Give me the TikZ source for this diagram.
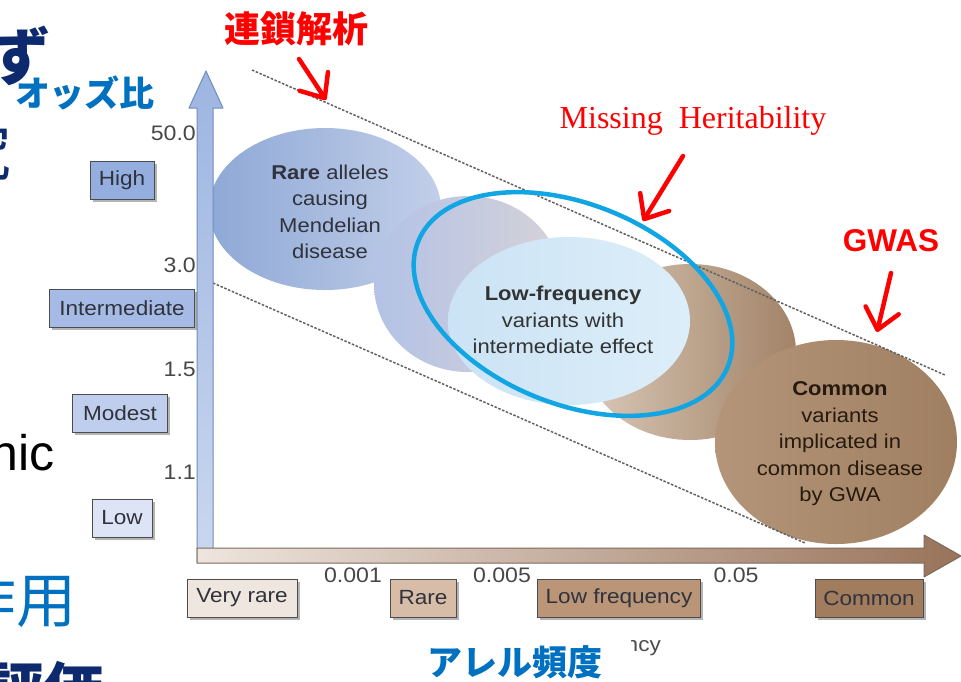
\documentclass[tikz,border=0pt]{standalone}
\usepackage{fontspec}
\setmainfont{Liberation Sans}[FakeStretch=1.1]
\newfontfamily\arialplain{Liberation Sans}
\newfontfamily\timesf{Liberation Serif}
\newfontfamily\jp{Noto Sans CJK JP}
\usetikzlibrary{shadows,arrows.meta}
\definecolor{navy}{HTML}{0E2A6E}
\definecolor{jblue}{HTML}{0070C0}
\definecolor{ringc}{HTML}{12A5E3}
\definecolor{txt}{HTML}{30323C}
\definecolor{annred}{HTML}{FF0000}
\definecolor{eal}{HTML}{8EA8D6}
\definecolor{ear}{HTML}{C2CFE9}
\definecolor{ebl}{HTML}{B3C2E6}
\definecolor{ebr}{HTML}{D6D2D8}
\definecolor{ecl}{HTML}{D9C8B8}
\definecolor{ecr}{HTML}{A28367}
\definecolor{edl}{HTML}{CBE3F5}
\definecolor{edr}{HTML}{DDEEF9}
\definecolor{eel}{HTML}{B49579}
\definecolor{eer}{HTML}{A07F61}
\definecolor{hiC}{HTML}{93AEDF}
\definecolor{inC}{HTML}{A5BBE5}
\definecolor{moC}{HTML}{C0CEEE}
\definecolor{loC}{HTML}{DCE4F5}
\definecolor{vrC}{HTML}{EFE6DF}
\definecolor{raC}{HTML}{D7BDA7}
\definecolor{lfC}{HTML}{BA9578}
\definecolor{coC}{HTML}{A17C5D}
\definecolor{axB}{HTML}{6F8DC0}
\definecolor{axBt}{HTML}{9DB5E1}
\definecolor{axBb}{HTML}{CAD7EF}
\definecolor{axHl}{HTML}{EEE5DE}
\definecolor{axHr}{HTML}{99735A}
\definecolor{axHd}{HTML}{7D6A5E}
\tikzset{
  lab/.style={font=\fontsize{20.5}{24}\selectfont, text=txt},
  box/.style={lab, draw=black!70, line width=0.8pt, minimum height=38pt, inner xsep=4pt, inner ysep=0pt,
     drop shadow={shadow xshift=2.5pt, shadow yshift=-2.5pt, opacity=0.45, fill=black!65}},
  num/.style={font=\fontsize{21}{24}\selectfont, text=black!72, inner sep=0pt},
  elltext/.style={align=center, font=\fontsize{20}{26.5}\selectfont, inner sep=0pt},
  dashline/.style={draw=black!62, line width=1.5pt, dash pattern=on 2.5pt off 1.6pt},
  redarrow/.style={draw=annred, line width=4.5pt, line cap=round, line join=round,
     -{Straight Barb[length=20pt,width=34pt,line cap=round,line join=round]}},
}
\begin{document}
\begin{tikzpicture}[x=1pt,y=-1pt]
\useasboundingbox (0,0) rectangle (961,681);
\clip (0,0) rectangle (961,681);
\fill[white] (0,0) rectangle (961,681);

% ---- slide fragments on the left
\node[text=navy, font=\jp\bfseries\fontsize{62}{62}\selectfont, inner sep=0pt] (fz) at (20,56) {ず};
\node[text=jblue, font=\jp\bfseries\fontsize{35}{35}\selectfont, inner sep=0pt] (odds) at (85,93) {オッズ比};
\node[text=navy, font=\jp\fontsize{62}{62}\selectfont, inner sep=0pt] (fk) at (-19,152) {究};
\node[text=black, font=\arialplain\fontsize{50}{50}\selectfont, inner sep=0pt, anchor=base east] (fnic) at (55,470) {nic};
\node[text=jblue, font=\jp\fontsize{60}{60}\selectfont, inner sep=0pt] (fsy) at (17,600) {作用};
\node[text=navy, font=\jp\bfseries\fontsize{60}{60}\selectfont, inner sep=0pt] (fhk) at (45,690) {評価};

% ---- ellipses
\shade[left color=eal, right color=ear] (325,209) ellipse [x radius=116, y radius=81];
\shade[left color=ebl, right color=ebr] (468,284) ellipse [x radius=94, y radius=88];
\shade[left color=ecl, right color=ecr] (690,352) ellipse [x radius=106, y radius=88];
\shade[left color=eel, right color=eer] (836,442) ellipse [x radius=121, y radius=102];
\shade[left color=edl, right color=edr] (569,321) ellipse [x radius=121, y radius=84];

% ---- dashed bounding lines
\coordinate (u1) at (252,70);  \coordinate (u2) at (945,375);
\coordinate (l1) at (213,283); \coordinate (l2) at (805,543);
\draw[dashline] (u1) -- (u2);
\draw[dashline] (l1) -- (l2);

% ---- ellipse texts
\node[elltext, text=txt] (rare) at (330,212) {\textbf{Rare} alleles\\causing\\Mendelian\\disease};
\node[elltext, text=black!80] (lowf) at (563,320) {\textbf{Low-frequency}\\variants with\\intermediate effect};
\node[elltext, text=black!80!brown] (comm) at (840,444) {\textbf{Common}\\variants\\implicated in\\common disease\\by GWA};

% ---- blue ring
\draw[ringc, line width=4.5pt, rotate around={-22:(573,304)}] (573,304) ellipse [x radius=167, y radius=100];

% ---- axes
\shade[top color=axBt, bottom color=axBb, draw=axB, line width=1pt, line join=round]
  (197,563) -- (197,108) -- (189,108) -- (206,71) -- (223,108) -- (213,108) -- (213,548) -- cycle;
\shade[left color=axHl, right color=axHr, draw=axHd, line width=1pt, line join=round]
  (197,548) -- (924,548) -- (924,535) -- (961,556) -- (924,577) -- (924,563) -- (197,563) -- cycle;

% ---- y-axis numbers and boxes
\node[num, anchor=east] (n50) at (196,133) {50.0};
\node[num, anchor=east] (n30) at (196,265) {3.0};
\node[num, anchor=east] (n15) at (196,369) {1.5};
\node[num, anchor=east] (n11) at (196,472) {1.1};
\node[box, fill=hiC, minimum width=64pt] (high) at (122,180) {High};
\node[box, fill=inC, minimum width=145pt] (inter) at (122,308) {Intermediate};
\node[box, fill=moC, minimum width=95pt] (modest) at (120,413) {Modest};
\node[box, fill=loC, minimum width=60pt] (low) at (122,518) {Low};

% ---- x-axis numbers and boxes
\node[num] (x001) at (353,575) {0.001};
\node[num] (x005) at (502,575) {0.005};
\node[num] (x05) at (736,575) {0.05};
\node[box, fill=vrC, minimum width=110pt] (vrare) at (242,598) {Very rare};
\node[box, fill=raC, minimum width=66pt] (rarebox) at (423,598) {Rare};
\node[box, fill=lfC, minimum width=163pt] (lfbox) at (619,598) {Low frequency};
\node[box, fill=coC, minimum width=108pt] (combox) at (869,598) {Common};

% ---- remnant of the covered axis title, and its Japanese label
\begin{scope}
  \clip (631,620) rectangle (700,681);
  \node[lab, text=black!70, anchor=base east, inner sep=0pt] (xcap) at (661,651) {ncy};
\end{scope}
\node[text=jblue, font=\jp\bfseries\fontsize{35}{35}\selectfont, inner sep=0pt] (afreq) at (515,662) {アレル頻度};

% ---- red annotations
\node[text=annred, font=\jp\bfseries\fontsize{36}{36}\selectfont, inner sep=0pt] (link) at (296,29) {連鎖解析};
\node[text=annred, font=\timesf\fontsize{32}{32}\selectfont, inner sep=0pt] (mh) at (693,121) {Missing\ \ Heritability};
\node[text=annred, font=\arialplain\bfseries\fontsize{31.5}{32}\selectfont, inner sep=0pt] (gwas) at (891,241) {GWAS};
\coordinate (a1s) at (299,59);  \coordinate (a1e) at (326,100);
\coordinate (a2s) at (683,156); \coordinate (a2e) at (643,221);
\coordinate (a3s) at (891,273); \coordinate (a3e) at (877,332);
\draw[redarrow] (a1s) -- (a1e);
\draw[redarrow] (a2s) -- (a2e);
\draw[redarrow] (a3s) -- (a3e);
\end{tikzpicture}
\end{document}
